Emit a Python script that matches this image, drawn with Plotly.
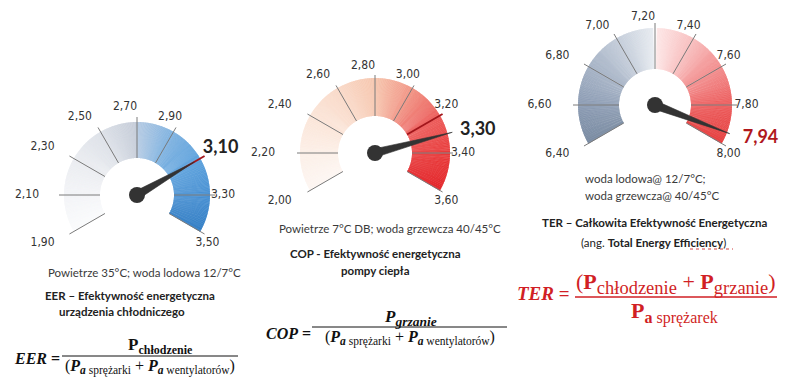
import numpy as np
import plotly.graph_objects as go

W, H = 787, 379

# ---- gauge data -------------------------------------------------------
EER_TICKS = [1.90, 2.10, 2.30, 2.50, 2.70, 2.90, 3.10, 3.30, 3.50]
EER_VALUE = 3.10
COP_TICKS = [2.00, 2.20, 2.40, 2.60, 2.80, 3.00, 3.20, 3.40, 3.60]
COP_VALUE = 3.30
TER_TICKS = [6.40, 6.60, 6.80, 7.00, 7.20, 7.40, 7.60, 7.80, 8.00]
TER_VALUE = 7.94

# ---- gauge styles -----------------------------------------------------
EER_SCALE = [[0.0, "#fafbfc"], [0.125, "#f3f4f7"], [0.25, "#eaecf0"], [0.375, "#dde1e8"],
             [0.495, "#c5ccd8"], [0.505, "#b3c9e2"], [0.625, "#7fb2e0"], [0.75, "#5aa0dc"],
             [0.875, "#4890d2"], [1.0, "#2f7cc4"]]
COP_SCALE = [[0.0, "#fdf6f2"], [0.125, "#fcefe7"], [0.25, "#fbe5d8"], [0.375, "#f9d9c8"],
             [0.5, "#f6c6ae"], [0.625, "#f19484"], [0.75, "#ec5c5a"], [0.875, "#e83a3a"],
             [1.0, "#e32428"]]
TER_SCALE = [[0.0, "#76889f"], [0.125, "#8b9bb3"], [0.25, "#a4b1c4"], [0.375, "#c3ccd9"],
             [0.4999, "#e8ecf1"], [0.5001, "#fde8e8"], [0.625, "#f8bfbf"], [0.75, "#f28c8c"],
             [0.875, "#ec5c5c"], [1.0, "#e53c3c"]]

# lab_a / lab_b: horizontal / vertical reach of the tick-label ring
GAUGES = [
    dict(ticks=EER_TICKS, value=EER_VALUE, scale=EER_SCALE, cx=137, cy=195,
         r_in=37, r_out=73, r_tick=78, lab_a=98, lab_b=88, needle=66, red_tick=3.10,
         split=False, val_color="#222222", val_r=76, val_pos="top right", hide_label=3.10),
    dict(ticks=COP_TICKS, value=COP_VALUE, scale=COP_SCALE, cx=375, cy=153,
         r_in=37, r_out=75, r_tick=78, lab_a=100, lab_b=87, needle=80, red_tick=3.20,
         split=False, val_color="#222222", val_r=88, val_pos="middle right", hide_label=None),
    dict(ticks=TER_TICKS, value=TER_VALUE, scale=TER_SCALE, cx=655, cy=105,
         r_in=36, r_out=77, r_tick=82, lab_a=103.5, lab_b=88, needle=80, red_tick=None,
         split=True, val_color="#b0181c", val_r=94, val_pos="middle right", hide_label=None),
]

RP = 104  # pixel radius of each polar subplot
TICK_FONT = dict(family="Liberation Sans Narrow, DejaVu Sans Condensed, sans-serif", size=12, color="#333333")
VAL_FONT_FAMILY = "Lato, Open Sans, sans-serif"


def fmt(v):
    return f"{v:.2f}".replace(".", ",")


fig = go.Figure()
layout_polars = {}

for i, g in enumerate(GAUGES, start=1):
    sub = "polar" if i == 1 else f"polar{i}"
    ticks = g["ticks"]
    v_lo, v_hi = ticks[0], ticks[-1]
    v_top = ticks[4]
    deg_per_unit = 30 / (ticks[1] - ticks[0])

    def ang(v, v_top=v_top, k=deg_per_unit):
        return (v - v_top) * k

    # gradient arc built from thin radial bars
    step = 0.5
    th = np.arange(ang(v_lo) + step / 2, ang(v_hi), step)
    if g["split"]:
        th = th[np.abs(th) > 1.6]
    frac = (th - ang(v_lo)) / (ang(v_hi) - ang(v_lo))
    fig.add_trace(go.Barpolar(
        r=np.full(th.size, g["r_out"] - g["r_in"]), base=g["r_in"], theta=th,
        width=step * 1.6, marker=dict(color=frac, colorscale=g["scale"], cmin=0, cmax=1,
                                       line=dict(width=0)),
        subplot=sub, showlegend=False, hoverinfo="skip"))

    # tick lines
    tr, tt, rr, rt = [], [], [], []
    for v in ticks:
        if g["red_tick"] is not None and abs(v - g["red_tick"]) < 1e-9:
            rr += [g["r_in"], g["r_tick"], None]
            rt += [ang(v), ang(v), None]
        else:
            tr += [g["r_in"], g["r_tick"], None]
            tt += [ang(v), ang(v), None]
    fig.add_trace(go.Scatterpolar(r=tr, theta=tt, mode="lines",
                                  line=dict(color="#7a7a7a", width=1),
                                  subplot=sub, showlegend=False, hoverinfo="skip"))
    if rr:
        fig.add_trace(go.Scatterpolar(r=rr, theta=rt, mode="lines",
                                      line=dict(color="#a3161b", width=2),
                                      subplot=sub, showlegend=False, hoverinfo="skip"))

    # tick labels on an elliptical ring, right-aligned to the ring
    lab_v = [v for v in ticks if g["hide_label"] is None or abs(v - g["hide_label"]) > 1e-9]
    lab_t = np.radians([ang(v) for v in lab_v])
    a_, b_ = g["lab_a"], g["lab_b"]
    lab_r = a_ * b_ / np.sqrt((b_ * np.sin(lab_t)) ** 2 + (a_ * np.cos(lab_t)) ** 2)
    fig.add_trace(go.Scatterpolar(
        r=lab_r, theta=[ang(v) for v in lab_v],
        text=[fmt(v) for v in lab_v], mode="text", textposition="middle left",
        textfont=TICK_FONT, cliponaxis=False,
        subplot=sub, showlegend=False, hoverinfo="skip"))

    # needle (tapered wedge) and hub
    a = ang(g["value"])
    fig.add_trace(go.Scatterpolar(
        r=[4.2, g["needle"], 4.2, 4.2], theta=[a - 90, a, a + 90, a - 90],
        mode="lines", fill="toself", fillcolor="#333333",
        line=dict(color="#333333", width=0.6),
        subplot=sub, showlegend=False, hoverinfo="skip"))
    fig.add_trace(go.Scatterpolar(
        r=[0], theta=[0], mode="markers",
        marker=dict(size=16, color="#333333"),
        subplot=sub, showlegend=False, hoverinfo="skip"))

    # value label
    fig.add_trace(go.Scatterpolar(
        r=[g["val_r"]], theta=[a], text=[f"<b>{fmt(g['value'])}</b>"], mode="text",
        textposition=g["val_pos"], cliponaxis=False,
        textfont=dict(family=VAL_FONT_FAMILY, size=18, color=g["val_color"]),
        subplot=sub, showlegend=False, hoverinfo="skip"))

    layout_polars[sub] = dict(
        domain=dict(x=[(g["cx"] - RP) / W, (g["cx"] + RP) / W],
                    y=[1 - (g["cy"] + RP) / H, 1 - (g["cy"] - RP) / H]),
        bgcolor="rgba(0,0,0,0)",
        radialaxis=dict(range=[0, RP], visible=False),
        angularaxis=dict(rotation=90, direction="clockwise", visible=False),
        bargap=0,
    )

# ---- captions ---------------------------------------------------------
SANS = "Lato, Open Sans, sans-serif"
SERIF = "Liberation Serif, DejaVu Serif, serif"
TXT = "#3a3a3a"
annotations = []


def text(x, y, s, size=12, color=TXT, family=SANS, xanchor="center"):
    annotations.append(dict(x=x, y=y, xref="x", yref="y", text=s, showarrow=False,
                            xanchor=xanchor, yanchor="middle",
                            font=dict(family=family, size=size, color=color)))


def sb(s, px):
    return f"<sub><span style='font-size:{px}px'>{s}</span></sub>"


text(144, 272, "Powietrze 35°C; woda lodowa 12/7°C", 11.5)
text(130, 295, "<b>EER – Efektywność energetyczna</b>", 11.5, "#222222")
text(122, 311, "<b>urządzenia chłodniczego</b>", 11.5, "#222222")

text(390, 228, "Powietrze 7°C DB; woda grzewcza 40/45°C", 11.5)
text(375, 253, "<b>COP - Efektywność energetyczna</b>", 11.5, "#222222")
text(375, 270, "<b>pompy ciepła</b>", 11.5, "#222222")

text(583, 178, "woda lodowa@ 12/7°C;", 11.5, xanchor="left")
text(583, 195, "woda grzewcza@ 40/45°C", 11.5, xanchor="left")
text(654, 222, "<b>TER – Całkowita Efektywność Energetyczna</b>", 11.5, "#222222")
text(653, 242, "(ang. <b>Total Energy Efficiency</b>)", 11.5, "#222222")

# ---- formulas ---------------------------------------------------------
BLK = "#111111"
RED = "#d11f25"
DEN = ("(<b><i>P</i></b>" + sb("<b><i>a</i></b> sprężarki", 11.5) + " + "
       "<b><i>P</i></b>" + sb("<b><i>a</i></b> wentylatorów", 11.5) + ")")

text(37, 358, "<b><i>EER</i> =</b>", 16, BLK, SERIF)
text(160, 346, "<b>P</b>" + sb("<b>chłodzenie</b>", 12), 17, BLK, SERIF)
text(150, 367, DEN, 16, BLK, SERIF)

text(288, 333, "<b><i>COP</i> =</b>", 16, BLK, SERIF)
text(410, 318, "<b><i>P</i></b>" + sb("<b><i>grzanie</i></b>", 13.5), 17, BLK, SERIF)
text(410, 338, DEN, 16, BLK, SERIF)

text(543, 293, "<b><i>TER</i> =</b>", 19, RED, SERIF)
text(676, 283, "(<b>P</b>" + sb("chłodzenie", 18.5) + " + <b>P</b>" + sb("grzanie", 18.5) + ")",
     22, RED, SERIF)
text(674, 312, "<b>P</b>" + sb("<b>a</b> sprężarek", 16), 22, RED, SERIF)

shapes = [
    dict(type="line", xref="x", yref="y", x0=62, x1=238, y0=356, y1=356,
         line=dict(color=BLK, width=1)),
    dict(type="line", xref="x", yref="y", x0=312, x1=507, y0=327, y1=327,
         line=dict(color=BLK, width=1)),
    dict(type="line", xref="x", yref="y", x0=575, x1=777, y0=297, y1=297,
         line=dict(color=RED, width=1.5)),
    dict(type="line", xref="x", yref="y", x0=690, x1=733, y0=249, y1=249,
         line=dict(color="#d04040", width=1, dash="dot")),
]

fig.update_layout(
    width=W, height=H, margin=dict(l=0, r=0, t=0, b=0),
    paper_bgcolor="white", plot_bgcolor="rgba(0,0,0,0)",
    xaxis=dict(range=[0, W], visible=False, fixedrange=True),
    yaxis=dict(range=[H, 0], visible=False, fixedrange=True),
    annotations=annotations, shapes=shapes, showlegend=False,
    **layout_polars,
)

fig.write_html("out.html", config=dict(displayModeBar=False))
